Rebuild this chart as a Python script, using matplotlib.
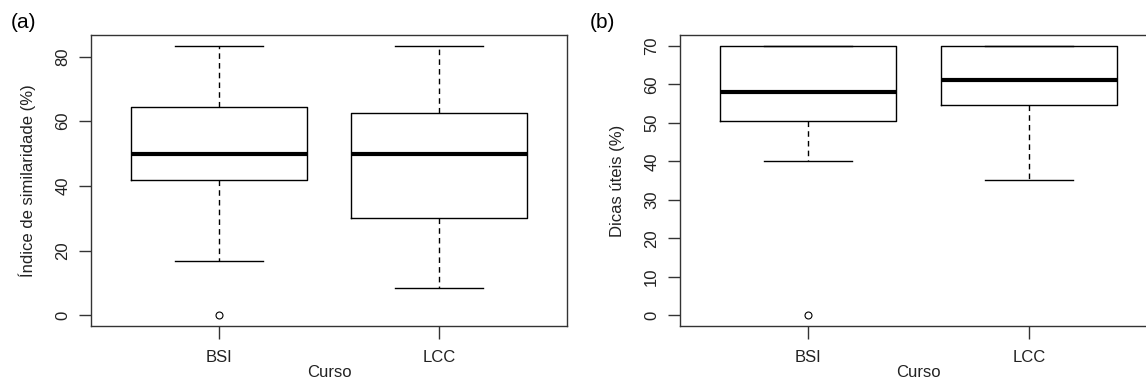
import matplotlib.pyplot as plt

plt.rcParams['font.family'] = ['Liberation Sans', 'DejaVu Sans']

cursos = ['BSI', 'LCC']

# (a) Indice de similaridade (%): whisker low, Q1, median, Q3, whisker high
sim_stats = [
    dict(whislo=16.7, q1=41.7, med=50.0, q3=64.5, whishi=83.3, fliers=[0.0]),
    dict(whislo=8.3, q1=30.0, med=50.0, q3=62.5, whishi=83.3, fliers=[]),
]

# (b) Dicas uteis (%)
dicas_stats = [
    dict(whislo=40.0, q1=50.5, med=58.0, q3=70.0, whishi=70.0, fliers=[0.0]),
    dict(whislo=35.0, q1=54.5, med=61.0, q3=70.0, whishi=70.0, fliers=[]),
]

fig = plt.figure(figsize=(11.46, 3.82), dpi=100)
W, H = 1146, 382
FS = 12


def r_boxplot(ax, stats, ylabel, yticks, ylim):
    for s, lab in zip(stats, cursos):
        s['label'] = lab
    ax.bxp(stats, positions=[1, 2], widths=0.8, showfliers=True,
           boxprops=dict(color='black', lw=1),
           medianprops=dict(color='black', lw=3, solid_capstyle='butt'),
           whiskerprops=dict(color='black', lw=1, linestyle=(0, (4, 3))),
           capprops=dict(color='black', lw=1),
           capwidths=0.4,
           flierprops=dict(marker='o', markersize=5, markerfacecolor='white',
                           markeredgecolor='black', markeredgewidth=0.8))
    ax.set_xlim(0.42, 2.58)
    ax.set_ylim(*ylim)
    ax.set_yticks(yticks)
    ax.set_yticklabels([str(t) for t in yticks], rotation=90, va='center',
                       fontsize=FS, color='#222222')
    ax.set_xticks([1, 2])
    ax.set_xticklabels(cursos, fontsize=FS, color='#222222')
    ax.tick_params(axis='both', length=9, width=1, color='#333333')
    ax.tick_params(axis='y', pad=6)
    ax.tick_params(axis='x', pad=8)
    for sp in ax.spines.values():
        sp.set_color('#333333')
        sp.set_linewidth(1)
    ax.set_ylabel(ylabel, fontsize=FS, color='#222222', labelpad=14)
    ax.set_xlabel('Curso', fontsize=FS, color='#222222', labelpad=0)


ax1 = fig.add_axes([91 / W, 56 / H, 476 / W, 291 / H])
r_boxplot(ax1, sim_stats, 'Índice de similaridade (%)', [0, 20, 40, 60, 80],
          (-3.33, 86.67))
fig.text(11 / W, 1 - 23 / H, '(a)', fontsize=15, va='center', ha='left')

ax2 = fig.add_axes([680 / W, 56 / H, 477 / W, 291 / H])
r_boxplot(ax2, dicas_stats, 'Dicas úteis (%)', [0, 10, 20, 30, 40, 50, 60, 70],
          (-2.8, 72.8))
fig.text(590 / W, 1 - 23 / H, '(b)', fontsize=15, va='center', ha='left')

fig.savefig('out.png', dpi=100)
